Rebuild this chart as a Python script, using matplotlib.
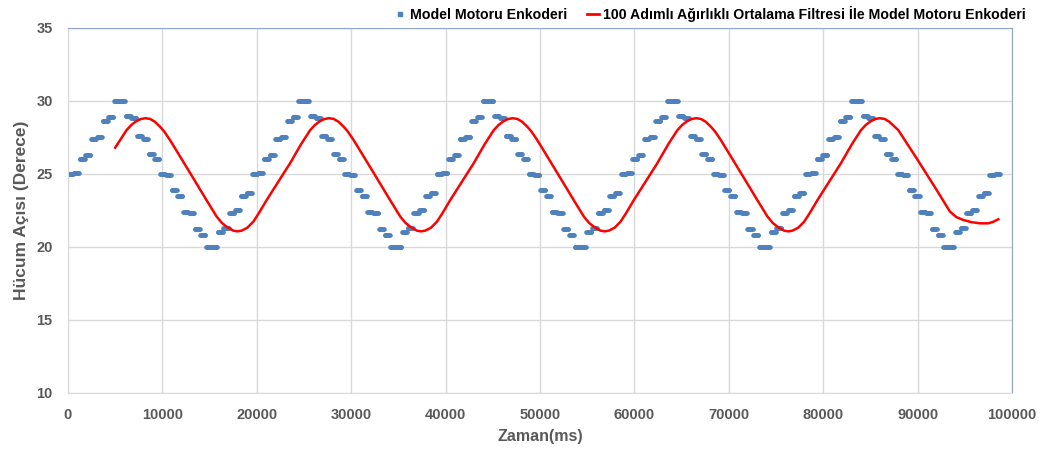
import numpy as np
import matplotlib.pyplot as plt
from matplotlib.lines import Line2D

# encoder output: quantised steps, each step split in two halves
step_ms = 1220
enc_first = [
    25.0, 26.0, 27.4, 28.6, 30.0, 29.0, 27.6, 26.4, 25.0, 23.9, 22.4, 21.2, 20.0, 21.0, 22.3, 23.5,
    25.0, 26.0, 27.4, 28.6, 30.0, 29.0, 27.6, 26.4, 25.0, 23.9, 22.4, 21.2, 20.0, 21.0, 22.3, 23.5,
    25.0, 26.0, 27.4, 28.6, 30.0, 29.0, 27.6, 26.4, 25.0, 23.9, 22.4, 21.2, 20.0, 21.0, 22.3, 23.5,
    25.0, 26.0, 27.4, 28.6, 30.0, 29.0, 27.6, 26.4, 25.0, 23.9, 22.4, 21.2, 20.0, 21.0, 22.3, 23.5,
    25.0, 26.0, 27.4, 28.6, 30.0, 29.0, 27.6, 26.4, 25.0, 23.9, 22.4, 21.2, 20.0, 21.0, 22.3, 23.5,
    24.9]
enc_second = [
    25.1, 26.3, 27.5, 28.9, 30.0, 28.8, 27.4, 26.0, 24.9, 23.5, 22.3, 20.8, 20.0, 21.3, 22.5, 23.7,
    25.1, 26.3, 27.5, 28.9, 30.0, 28.8, 27.4, 26.0, 24.9, 23.5, 22.3, 20.8, 20.0, 21.3, 22.5, 23.7,
    25.1, 26.3, 27.5, 28.9, 30.0, 28.8, 27.4, 26.0, 24.9, 23.5, 22.3, 20.8, 20.0, 21.3, 22.5, 23.7,
    25.1, 26.3, 27.5, 28.9, 30.0, 28.8, 27.4, 26.0, 24.9, 23.5, 22.3, 20.8, 20.0, 21.3, 22.5, 23.7,
    25.1, 26.3, 27.5, 28.9, 30.0, 28.8, 27.4, 26.0, 24.9, 23.5, 22.3, 20.8, 20.0, 21.3, 22.5, 23.7,
    25.0]

# filtered signal (time ms, angle deg)
filt_t = [
    5000, 6200, 6700, 7200, 7700, 8200, 8700, 9200, 9750, 10200, 10800, 11700, 13280, 14700,
    15750, 16300, 16800, 17500, 17950, 18400, 19000, 19630, 20200, 21050, 23520, 24700,
    25650, 26150, 26650, 27150, 27650, 28150, 28650, 29200, 29650, 30250, 31150, 32730, 34150,
    35200, 35750, 36250, 36950, 37400, 37850, 38450, 39080, 39650, 40500, 42970, 44150,
    45100, 45600, 46100, 46600, 47100, 47600, 48100, 48650, 49100, 49700, 50600, 52180, 53600,
    54650, 55200, 55700, 56400, 56850, 57300, 57900, 58530, 59100, 59950, 62420, 63600,
    64550, 65050, 65550, 66050, 66550, 67050, 67550, 68100, 68550, 69150, 70050, 71630, 73050,
    74100, 74650, 75150, 75850, 76300, 76750, 77350, 77980, 78550, 79400, 81870, 83050,
    84000, 84500, 85000, 85500, 86000, 86500, 87000, 87960, 88900, 89900, 92020, 93430,
    94100, 94840, 95700, 96610, 97490, 98000, 98550]
filt_v = [
    26.80, 28.00, 28.35, 28.60, 28.76, 28.82, 28.77, 28.58, 28.24, 27.90, 27.33, 26.38, 24.70, 23.18,
    22.08, 21.65, 21.39, 21.12, 21.07, 21.12, 21.32, 21.73, 22.30, 23.22, 25.73, 27.05,
    28.00, 28.35, 28.60, 28.76, 28.82, 28.77, 28.58, 28.24, 27.90, 27.33, 26.38, 24.70, 23.18,
    22.08, 21.65, 21.39, 21.12, 21.07, 21.12, 21.32, 21.73, 22.30, 23.22, 25.73, 27.05,
    28.00, 28.35, 28.60, 28.76, 28.82, 28.77, 28.58, 28.24, 27.90, 27.33, 26.38, 24.70, 23.18,
    22.08, 21.65, 21.39, 21.12, 21.07, 21.12, 21.32, 21.73, 22.30, 23.22, 25.73, 27.05,
    28.00, 28.35, 28.60, 28.76, 28.82, 28.77, 28.58, 28.24, 27.90, 27.33, 26.38, 24.70, 23.18,
    22.08, 21.65, 21.39, 21.12, 21.07, 21.12, 21.32, 21.73, 22.30, 23.22, 25.73, 27.05,
    28.00, 28.35, 28.60, 28.76, 28.82, 28.77, 28.58, 28.00, 27.06, 26.07, 23.90, 22.42,
    22.05, 21.85, 21.70, 21.62, 21.62, 21.72, 21.90]

x_ticks = [0, 10000, 20000, 30000, 40000, 50000, 60000, 70000, 80000, 90000, 100000]
y_ticks = [10, 15, 20, 25, 30, 35]

label_raw = 'Model Motoru Enkoderi'
label_filt = '100 Adımlı Ağırlıklı Ortalama Filtresi İle Model Motoru Enkoderi'

BLUE = '#4F81BD'
GREY = '#595959'

plt.rcParams['font.family'] = ['Liberation Sans', 'DejaVu Sans']

# expand every step into samples
per_step = 16
t_raw, v_raw = [], []
for i, (a, b) in enumerate(zip(enc_first, enc_second)):
    ts = i * step_ms + np.arange(per_step) * step_ms / per_step
    t_raw.extend(ts)
    v_raw.extend([a] * (per_step // 2) + [b] * (per_step - per_step // 2))

fig = plt.figure(figsize=(10.46, 4.54), dpi=100)
ax = fig.add_axes([0.065, 0.1344, 0.9025, 0.804])

ax.plot(t_raw, v_raw, 'o', color=BLUE, markersize=3.3, markeredgewidth=0)
ax.plot(filt_t, filt_v, '-', color='#FF0000', lw=1.8)

ax.set_xlim(0, 100000)
ax.set_ylim(10, 35)
ax.set_xticks(x_ticks)
ax.set_xticklabels([str(v) for v in x_ticks])
ax.set_yticks(y_ticks)
ax.grid(color='#D9D9D9', lw=1)
ax.set_axisbelow(True)
ax.tick_params(length=0, labelsize=10.5, labelcolor=GREY, pad=11)
for lab in ax.get_xticklabels() + ax.get_yticklabels():
    lab.set_fontweight('bold')
for side in ('left', 'bottom'):
    ax.spines[side].set_color('#D9D9D9')
for side in ('top', 'right'):
    ax.spines[side].set_color('#8EA6CC')

ax.set_xlabel('Zaman(ms)', fontsize=11.5, fontweight='bold', color=GREY, labelpad=5)
ax.set_ylabel('Hücum Açısı (Derece)', fontsize=12.5, fontweight='bold', color=GREY, labelpad=5)

handles = [Line2D([], [], marker='s', ls='none', color=BLUE, markersize=2.8),
           Line2D([], [], color='#FF0000', lw=2)]
fig.legend(handles, [label_raw, label_filt], loc='center', bbox_to_anchor=(0.679, 0.969),
           ncol=2, frameon=False, prop={'size': 10.2, 'weight': 'bold'},
           handlelength=0.8, handletextpad=0.3, columnspacing=1.4, borderpad=0)

fig.savefig('out.png', dpi=100)
